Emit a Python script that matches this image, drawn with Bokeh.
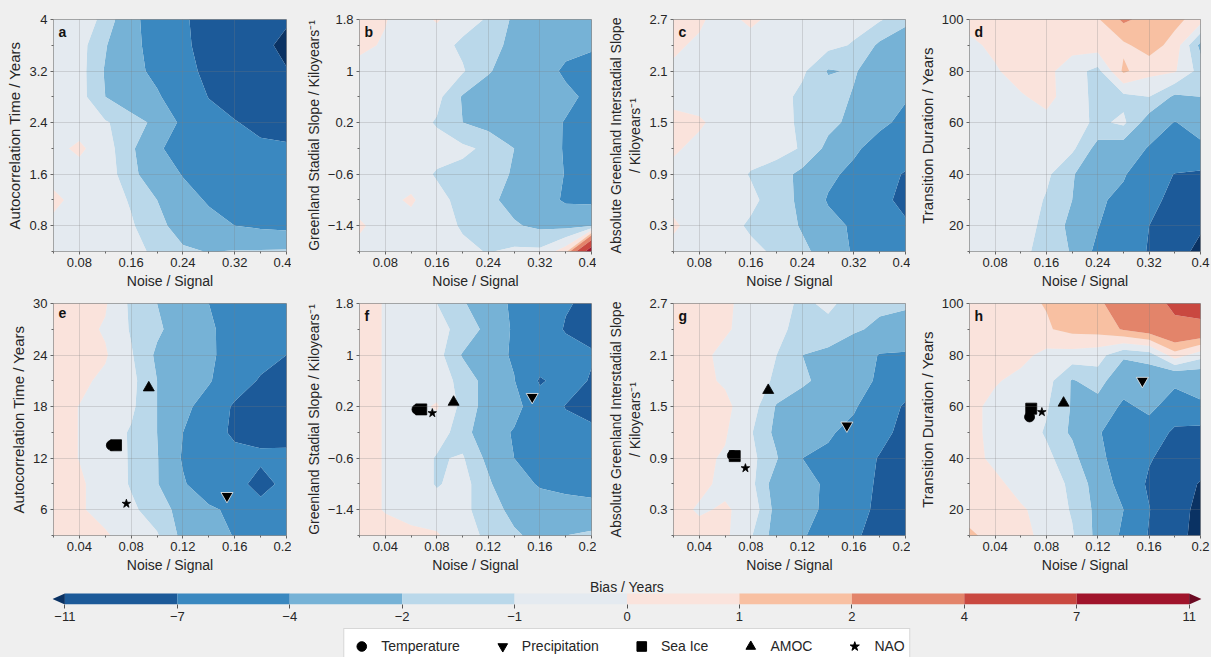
import numpy as np
from bokeh.plotting import figure
from bokeh.layouts import column, row
from bokeh.models import Range1d, FixedTicker, Label, Legend, LegendItem, Spacer
from bokeh.embed import file_html
from bokeh.resources import INLINE

FONT = "Liberation Sans"
BG = "#efefef"

# ---------------- data ----------------
LEVELS = [-15, -11, -7, -4, -2, -1, 0, 1, 2, 4, 7, 11, 15]
COLORS = ["#0a3263", "#1c5a99", "#3a88c0", "#76b2d6", "#bad8ea", "#e4eaf0",
          "#fae3dc", "#f8c0a2", "#e3846a", "#c94840", "#a0142b", "#6b0a22"]
CB_TICKS = [-11, -7, -4, -2, -1, 0, 1, 2, 4, 7, 11]

X_TOP = [0.04, 0.08, 0.12, 0.16, 0.20, 0.24, 0.28, 0.32, 0.36, 0.40]
X_BOT = [0.02, 0.04, 0.06, 0.08, 0.10, 0.12, 0.14, 0.16, 0.18, 0.20]
Y_AUTO_TOP = [0.4, 0.8, 1.2, 1.6, 2.0, 2.4, 2.8, 3.2, 3.6, 4.0]
Y_AUTO_BOT = [3, 6, 9, 12, 15, 18, 21, 24, 27, 30]
Y_STAD = [-1.8, -1.4, -1.0, -0.6, -0.2, 0.2, 0.6, 1.0, 1.4, 1.8]
Y_INTER = [0.0, 0.3, 0.6, 0.9, 1.2, 1.5, 1.8, 2.1, 2.4, 2.7]
Y_TRANS = [10, 20, 30, 40, 50, 60, 70, 80, 90, 100]

# bias grids, rows listed from the top of each panel (largest y) downwards
Z_A = [
    [-0.3, -0.5, -1.24, -3.2, -5.5, -6.5, -8.5, -9.0, -10.0, -10.5],
    [-0.3, -0.6, -1.9, -3.3, -5.0, -6.5, -8.0, -9.0, -10.0, -12.0],
    [-0.3, -0.6, -2.1, -3.5, -4.4, -6.2, -7.6, -9.0, -10.0, -10.8],
    [-0.3, -0.6, -2.0, -2.8, -3.8, -5.0, -7.1, -8.5, -9.5, -10.0],
    [-0.3, -0.5, -0.9, -1.5, -2.3, -4.5, -5.8, -6.8, -8.0, -8.5],
    [-0.3, 0.2, -0.6, -1.7, -3.8, -4.6, -5.2, -6.0, -6.3, -6.5],
    [-0.3, -0.4, -0.5, -1.6, -3.0, -4.1, -4.8, -5.5, -5.8, -6.0],
    [0.2, -0.3, -0.5, -1.1, -2.0, -3.3, -4.2, -5.2, -5.5, -5.5],
    [-0.2, -0.3, -0.5, -0.9, -1.6, -2.6, -3.4, -4.0, -4.3, -4.5],
    [-0.2, -0.3, -0.5, -0.7, -1.2, -1.8, -2.05, -1.9, -1.85, -1.8],
]
Z_B = [
    [0.3, 0.05, -0.5, 0.1, -0.6, -1.1, -2.2, -2.8, -3.2, -3.3],
    [0.2, -0.1, -0.4, -0.6, -1.2, -1.6, -2.3, -3.0, -3.5, -3.8],
    [-0.3, -0.4, -0.4, -0.5, -0.9, -1.9, -2.6, -3.2, -4.3, -4.6],
    [-0.3, -0.4, -0.5, -0.7, -2.1, -2.6, -2.8, -3.2, -3.6, -4.4],
    [-0.3, -0.4, -0.5, -1.1, -2.0, -2.4, -2.8, -3.3, -4.1, -5.0],
    [-0.3, -0.4, -0.5, -0.6, -0.8, -1.2, -2.0, -2.8, -4.2, -4.8],
    [-0.3, -0.4, -0.5, -1.1, -1.3, -1.6, -2.1, -2.8, -4.1, -4.5],
    [-0.3, -0.3, 0.15, -0.7, -1.3, -1.8, -2.3, -3.0, -4.3, -4.4],
    [0.1, -0.3, -0.4, -0.6, -1.1, -1.5, -1.9, -2.2, -2.3, -2.1],
    [-0.2, -0.3, -0.4, -0.5, -0.8, -1.05, -0.8, -0.8, 0.6, 9.0],
]
Z_C = [
    [0.2, 0.1, -0.3, 0.2, -0.3, -0.4, -0.5, -0.6, -0.9, -1.6],
    [0.1, -0.1, -0.3, -0.4, -0.4, -0.5, -0.7, -1.1, -2.2, -3.0],
    [-0.1, -0.3, -0.3, -0.4, -0.5, -0.8, -2.1, -1.9, -2.6, -3.2],
    [-0.2, -0.3, -0.3, -0.4, -0.5, -1.3, -1.5, -2.1, -2.6, -3.8],
    [0.2, 0.1, -0.3, -0.4, -0.6, -1.2, -1.7, -2.3, -3.5, -4.6],
    [0.1, -0.2, -0.3, -0.4, -0.6, -1.1, -2.3, -3.6, -5.0, -5.0],
    [-0.2, -0.3, -0.3, -1.1, -1.5, -2.3, -3.5, -4.6, -5.6, -7.3],
    [-0.2, -0.3, -0.4, -0.7, -1.6, -2.2, -4.2, -5.5, -6.2, -7.8],
    [0.1, -0.3, -0.5, -1.2, -1.5, -2.1, -3.3, -4.3, -5.5, -6.6],
    [-0.2, -0.3, -0.5, -0.7, -1.2, -1.8, -2.4, -4.3, -5.5, -6.0],
]
Z_D = [
    [0.3, 0.4, 0.5, 0.5, 0.6, 0.9, 2.2, 1.6, 1.3, 0.5],
    [-0.2, 0.2, 0.4, 0.4, 0.4, 0.5, 0.8, 1.5, 0.6, -2.3],
    [-0.3, -0.1, 0.4, 0.3, -0.6, -1.3, 1.2, 0.3, 0.1, -1.4],
    [-0.3, -0.3, -0.1, 0.3, -0.5, -1.3, -1.3, -1.0, -2.2, -2.0],
    [-0.3, -0.3, -0.3, -0.3, -0.6, -1.2, -0.8, -2.6, -4.1, -3.0],
    [-0.3, -0.3, -0.3, -0.4, -0.8, -2.4, -2.6, -4.2, -4.6, -4.5],
    [-0.3, -0.3, -0.4, -0.8, -1.9, -2.9, -3.8, -5.5, -7.1, -7.4],
    [-0.3, -0.3, -0.4, -1.1, -2.0, -3.7, -4.5, -6.2, -7.8, -8.5],
    [-0.3, -0.3, -0.5, -1.3, -2.3, -3.9, -5.5, -7.0, -9.0, -10.5],
    [-0.3, -0.4, -0.8, -1.3, -2.1, -4.6, -5.5, -7.2, -9.5, -12.0],
]
Z_E = [
    [0.4, 0.3, 0.1, -1.2, -2.0, -3.0, -4.0, -4.8, -5.0, -5.2],
    [0.4, 0.3, -0.1, -1.1, -1.8, -2.6, -3.7, -4.8, -5.5, -6.0],
    [0.4, 0.3, 0.1, -0.9, -2.2, -3.0, -3.6, -5.0, -6.0, -7.0],
    [0.3, 0.2, -0.2, -0.7, -2.0, -3.0, -3.8, -5.5, -7.3, -8.0],
    [0.3, -0.02, -0.4, -0.8, -2.0, -3.4, -5.0, -7.4, -8.0, -8.2],
    [0.3, -0.02, -0.5, -1.1, -2.0, -4.0, -5.5, -7.6, -7.8, -7.6],
    [0.3, -0.02, -0.4, -1.1, -1.9, -4.2, -5.5, -6.0, -6.5, -6.6],
    [0.4, 0.1, -0.3, -1.1, -1.9, -3.8, -5.2, -6.0, -8.0, -6.2],
    [0.3, 0.1, -0.3, -0.8, -1.5, -2.4, -3.7, -4.4, -6.0, -5.5],
    [0.4, 0.3, 0.1, -0.4, -0.9, -2.3, -3.2, -4.1, -4.5, -4.6],
]
Z_F = [
    [0.3, -0.05, -0.4, -1.0, -1.9, -2.6, -4.5, -5.5, -6.8, -7.5],
    [0.3, -0.05, -0.4, -0.8, -1.2, -2.4, -4.3, -5.5, -7.2, -7.6],
    [0.3, -0.05, -0.4, -0.6, -2.1, -3.0, -4.3, -5.4, -6.0, -6.8],
    [0.3, -0.05, -0.3, -0.5, -1.3, -2.5, -3.9, -7.3, -6.0, -7.2],
    [0.3, -0.05, -0.3, 0.1, -1.3, -2.5, -3.2, -5.6, -7.1, -7.8],
    [0.3, -0.05, -0.3, -0.5, -1.5, -2.9, -4.2, -5.5, -6.2, -6.5],
    [0.3, -0.05, -0.3, -1.1, -0.9, -2.3, -4.0, -5.5, -6.0, -6.2],
    [0.3, -0.05, -0.3, -1.1, -0.6, -1.8, -3.2, -4.2, -4.6, -4.8],
    [0.3, -0.05, -0.3, -0.5, -0.8, -1.4, -2.4, -3.0, -3.1, -3.3],
    [0.4, 0.3, 0.2, 0.1, -0.6, -1.2, -1.8, -2.4, -2.0, -1.7],
]
Z_G = [
    [0.3, 0.3, 0.1, -0.2, -0.6, -1.2, -0.8, -1.4, -1.7, -1.8],
    [0.3, 0.3, 0.1, -0.3, -0.7, -1.4, -1.3, -1.8, -2.3, -2.6],
    [0.3, 0.2, -0.2, -0.4, -1.0, -2.0, -2.3, -3.0, -4.1, -4.2],
    [0.3, 0.2, -0.1, -0.4, -1.2, -1.8, -2.4, -3.2, -4.3, -5.5],
    [0.3, 0.3, 0.2, -0.5, -2.1, -2.6, -3.0, -3.8, -5.2, -7.4],
    [0.3, 0.3, 0.1, -0.9, -2.3, -2.6, -3.8, -4.5, -6.0, -8.0],
    [0.2, 0.2, -0.1, -0.7, -1.9, -4.0, -4.3, -5.5, -7.2, -8.3],
    [0.2, 0.2, -0.2, -0.7, -2.6, -3.0, -4.5, -5.5, -7.5, -8.5],
    [0.3, -0.1, 0.1, -0.3, -2.4, -3.2, -4.5, -6.0, -7.6, -8.5],
    [0.3, 0.3, 0.2, -0.9, -2.5, -3.9, -4.5, -6.6, -8.0, -8.5],
]
Z_H = [
    [0.5, 0.6, 0.8, 1.05, 1.6, 1.9, 2.3, 3.2, 4.4, 4.9],
    [0.4, 0.5, 0.6, 0.9, 1.3, 1.4, 2.1, 2.7, 3.5, 3.4],
    [0.4, 0.3, 0.3, -0.3, -0.4, -0.6, -1.8, -1.5, 0.6, -0.6],
    [0.3, 0.1, -0.3, -0.6, -2.1, -1.5, -3.0, -2.9, -3.6, -3.2],
    [0.3, -0.3, -0.4, -0.9, -2.1, -2.5, -4.4, -3.5, -5.0, -4.3],
    [0.3, -0.3, -0.5, -1.1, -2.2, -3.8, -5.2, -5.0, -7.6, -8.0],
    [0.3, -0.2, -0.5, -0.8, -1.5, -3.5, -5.0, -6.8, -8.0, -8.8],
    [0.3, 0.2, -0.3, -0.5, -1.2, -2.5, -5.0, -7.4, -9.0, -11.3],
    [0.3, 0.3, 0.1, -0.3, -1.1, -2.3, -4.0, -6.9, -9.5, -12.0],
    [1.3, 0.4, 0.2, -0.2, -0.9, -2.3, -4.4, -7.2, -9.5, -12.5],
]

# observation-based estimates (Temperature, Precipitation, Sea Ice, AMOC, NAO)
SERIES = ["Temperature", "Precipitation", "Sea Ice", "AMOC", "NAO"]
MARKERS = ["circle", "inverted_triangle", "square", "triangle", "star"]
MK_E_X = [0.0647, 0.154, 0.0683, 0.0936, 0.0763]
MK_E_Y = [13.5, 7.6, 13.5, 20.2, 6.7]
MK_F_X = [0.0646, 0.154, 0.0679, 0.093, 0.0765]
MK_F_Y = [0.157, 0.35, 0.157, 0.27, 0.10]
MK_G_X = [0.0657, 0.1545, 0.0675, 0.0935, 0.0758]
MK_G_Y = [0.93, 1.28, 0.924, 1.69, 0.784]
MK_H_X = [0.0668, 0.1547, 0.0681, 0.0933, 0.0764]
MK_H_Y = [56.0, 70.0, 59.2, 61.4, 57.9]

# ticks
XT_TOP = [0.08, 0.16, 0.24, 0.32, 0.4]
XT_TOP_LAB = ["0.08", "0.16", "0.24", "0.32", "0.4"]
XT_TOP_MIN = [0.04, 0.12, 0.2, 0.28, 0.36]
XT_BOT = [0.04, 0.08, 0.12, 0.16, 0.2]
XT_BOT_LAB = ["0.04", "0.08", "0.12", "0.16", "0.2"]
XT_BOT_MIN = [0.02, 0.06, 0.1, 0.14, 0.18]
YT_A = [0.8, 1.6, 2.4, 3.2, 4.0]
YT_A_LAB = ["0.8", "1.6", "2.4", "3.2", "4"]
YT_A_MIN = [0.4, 1.2, 2.0, 2.8, 3.6]
YT_E = [6, 12, 18, 24, 30]
YT_E_LAB = ["6", "12", "18", "24", "30"]
YT_E_MIN = [3, 9, 15, 21, 27]
YT_B = [-1.4, -0.6, 0.2, 1.0, 1.8]
YT_B_LAB = ["\u22121.4", "\u22120.6", "0.2", "1", "1.8"]
YT_B_MIN = [-1.8, -1.0, -0.2, 0.6, 1.4]
YT_C = [0.3, 0.9, 1.5, 2.1, 2.7]
YT_C_LAB = ["0.3", "0.9", "1.5", "2.1", "2.7"]
YT_C_MIN = [0.0, 0.6, 1.2, 1.8, 2.4]
YT_D = [20, 40, 60, 80, 100]
YT_D_LAB = ["20", "40", "60", "80", "100"]
YT_D_MIN = [10, 30, 50, 70, 90]

XLABEL = "Noise / Signal"
YL_A = "Autocorrelation Time / Years"
YL_B = "Greenland Stadial Slope / Kiloyears\u207b\u00b9"
YL_C = "Absolute Greenland Interstadial Slope\n/ Kiloyears\u207b\u00b9"
YL_D = "Transition Duration / Years"
CB_TITLE = "Bias / Years"

FRAME_H = 232


def style_axis(ax):
    ax.major_label_text_font = FONT
    ax.major_label_text_font_size = "13px"
    ax.major_label_text_color = "#262626"
    ax.axis_label_text_font = FONT
    ax.axis_label_text_font_style = "normal"
    ax.axis_label_text_color = "#262626"
    ax.axis_line_color = None
    ax.major_tick_in = 0
    ax.major_tick_out = 3
    ax.minor_tick_in = 0
    ax.minor_tick_out = 2
    ax.major_tick_line_color = "#666666"
    ax.minor_tick_line_color = "#666666"
    ax.major_label_standoff = 3
    ax.axis_label_standoff = 3


def panel(xs, ys, zrows, letter, xt, xtl, xtm, yt, ytl, ytm, ylabel, ysize,
          width, left, right, top, bottom, mkx=None, mky=None):
    p = figure(width=width, height=top + FRAME_H + bottom,
               x_range=Range1d(xs[0], xs[-1]), y_range=Range1d(ys[0], ys[-1]),
               min_border_left=left, min_border_right=right,
               min_border_top=top, min_border_bottom=bottom,
               output_backend="svg", toolbar_location=None,
               background_fill_color=BG, border_fill_color=BG,
               outline_line_color="#8c8c8c")
    z = np.array(zrows, dtype=float)[::-1]
    p.contour(x=xs, y=ys, z=z, levels=LEVELS, fill_color=COLORS)
    xa = p.xaxis[0]
    ya = p.yaxis[0]
    xa.ticker = FixedTicker(ticks=xt, minor_ticks=xtm)
    xa.major_label_overrides = dict(zip(xt, xtl))
    ya.ticker = FixedTicker(ticks=yt, minor_ticks=ytm)
    ya.major_label_overrides = dict(zip(yt, ytl))
    style_axis(xa)
    style_axis(ya)
    xa.axis_label = XLABEL
    xa.axis_label_text_font_size = "14px"
    ya.axis_label = ylabel
    ya.axis_label_text_font_size = ysize
    for g in (p.xgrid[0], p.ygrid[0]):
        g.level = "overlay"
        g.grid_line_color = "#7a7a7a"
        g.grid_line_alpha = 0.25
    if mkx is not None:
        for i, (name, mk) in enumerate(zip(SERIES, MARKERS)):
            size = {"circle": 10, "inverted_triangle": 12, "square": 11,
                    "triangle": 11, "star": 9}[mk]
            lc = "#f2f2f2" if mk == "inverted_triangle" else "black"
            p.scatter(x=[mkx[i]], y=[mky[i]], marker=mk, size=size,
                      fill_color="black", line_color=lc, line_width=0.8)
    p.add_layout(Label(x=xs[0], y=ys[-1], x_offset=5, y_offset=-4, text=letter,
                       text_baseline="top", text_font=FONT, text_font_size="14px",
                       text_font_style="bold", text_color="#111111"))
    return p


# column geometry: (width, left border, right border)
COLS = [(291, 53, 5), (305, 68, 5), (314, 77, 5), (301, 59, 11)]
TOP1, BOT1 = 19, 44
TOP2, BOT2 = 8, 44

fa = panel(X_TOP, Y_AUTO_TOP, Z_A, "a", XT_TOP, XT_TOP_LAB, XT_TOP_MIN, YT_A, YT_A_LAB, YT_A_MIN,
           YL_A, "15px", *COLS[0], TOP1, BOT1)
fb = panel(X_TOP, Y_STAD, Z_B, "b", XT_TOP, XT_TOP_LAB, XT_TOP_MIN, YT_B, YT_B_LAB, YT_B_MIN,
           YL_B, "14px", *COLS[1], TOP1, BOT1)
fc = panel(X_TOP, Y_INTER, Z_C, "c", XT_TOP, XT_TOP_LAB, XT_TOP_MIN, YT_C, YT_C_LAB, YT_C_MIN,
           YL_C, "14px", *COLS[2], TOP1, BOT1)
fd = panel(X_TOP, Y_TRANS, Z_D, "d", XT_TOP, XT_TOP_LAB, XT_TOP_MIN, YT_D, YT_D_LAB, YT_D_MIN,
           YL_D, "15px", *COLS[3], TOP1, BOT1)
fe = panel(X_BOT, Y_AUTO_BOT, Z_E, "e", XT_BOT, XT_BOT_LAB, XT_BOT_MIN, YT_E, YT_E_LAB, YT_E_MIN,
           YL_A, "15px", *COLS[0], TOP2, BOT2, MK_E_X, MK_E_Y)
ff = panel(X_BOT, Y_STAD, Z_F, "f", XT_BOT, XT_BOT_LAB, XT_BOT_MIN, YT_B, YT_B_LAB, YT_B_MIN,
           YL_B, "14px", *COLS[1], TOP2, BOT2, MK_F_X, MK_F_Y)
fg = panel(X_BOT, Y_INTER, Z_G, "g", XT_BOT, XT_BOT_LAB, XT_BOT_MIN, YT_C, YT_C_LAB, YT_C_MIN,
           YL_C, "14px", *COLS[2], TOP2, BOT2, MK_G_X, MK_G_Y)
fh = panel(X_BOT, Y_TRANS, Z_H, "h", XT_BOT, XT_BOT_LAB, XT_BOT_MIN, YT_D, YT_D_LAB, YT_D_MIN,
           YL_D, "15px", *COLS[3], TOP2, BOT2, MK_H_X, MK_H_Y)

# ---------------- colour bar ----------------
nb = len(CB_TICKS) - 1
idx = list(range(len(CB_TICKS)))
ARROW = 0.11
CB_FRAME_H = 25
BAR_H = 11
YTOP = CB_FRAME_H / BAR_H
cb = figure(width=1211, height=CB_FRAME_H + 24, x_range=Range1d(-ARROW, nb + ARROW),
            y_range=Range1d(0, YTOP),
            min_border_left=52, min_border_right=10, min_border_top=0, min_border_bottom=24,
            output_backend="svg", toolbar_location=None,
            background_fill_color=BG, border_fill_color=BG, outline_line_color=None)
cb.quad(left=idx[:-1], right=idx[1:], bottom=0, top=1, fill_color=COLORS[1:-1], line_color=None)
cb.patch(x=[0, -ARROW, 0], y=[0, 0.5, 1], fill_color=COLORS[0], line_color=None)
cb.patch(x=[nb, nb + ARROW, nb], y=[0, 0.5, 1], fill_color=COLORS[-1], line_color=None)
cb.yaxis.visible = False
cb.grid.visible = False
cax = cb.xaxis[0]
cax.ticker = FixedTicker(ticks=idx)
cax.major_label_overrides = {i: str(v).replace("-", "\u2212") for i, v in zip(idx, CB_TICKS)}
style_axis(cax)
cax.major_tick_out = 4
cax.major_tick_line_color = "#555555"
cax.minor_tick_line_color = None
cb.add_layout(Label(x=nb / 2, y=(1 + YTOP) / 2, text=CB_TITLE, text_align="center",
                    text_baseline="middle", text_font=FONT, text_font_size="14px",
                    text_color="#262626"))

# ---------------- legend ----------------
lg = figure(width=1168, height=29, x_range=Range1d(0, 1), y_range=Range1d(0, 1),
            min_border_left=0, min_border_right=0, min_border_top=0, min_border_bottom=0,
            output_backend="svg", toolbar_location=None,
            background_fill_color=BG, border_fill_color=BG, outline_line_color=None)
lg.axis.visible = False
lg.grid.visible = False
items = []
for name, mk in zip(SERIES, MARKERS):
    # placeholder (NaN) point: only its legend glyph is shown
    r = lg.scatter(x=[np.nan], y=[np.nan], marker=mk, size=10,
                   fill_color="black", line_color="black")
    items.append(LegendItem(label=name, renderers=[r]))
leg = Legend(items=items, orientation="horizontal", location="top_center", margin=0,
             padding=5, spacing=30, label_standoff=8, glyph_width=24, glyph_height=24,
             label_height=24, label_text_font=FONT, label_text_font_size="14px",
             label_text_color="#262626", border_line_color="#b0b0b0",
             background_fill_color="white", background_fill_alpha=1.0)
lg.add_layout(leg)

layout = column(row(fa, fb, fc, fd), row(fe, ff, fg, fh), cb,
                row(Spacer(width=43, height=29), lg))

TEMPLATE = """
{% block preamble %}
<style>
html, body { margin: 0 !important; padding: 0 !important; background: #efefef !important; overflow: hidden !important; }
</style>
{% endblock %}
{% block postamble %}
<style>
html, body { margin: 0 !important; padding: 0 !important; background: #efefef !important; overflow: hidden !important; }
</style>
{% endblock %}
"""

open("out.html", "w").write(file_html(layout, INLINE, title="Bias", template=TEMPLATE))
